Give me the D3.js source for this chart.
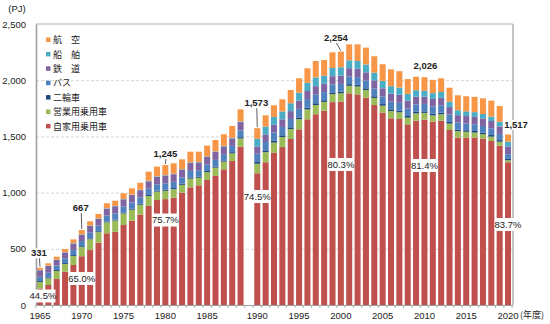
<!DOCTYPE html>
<html>
<head>
<meta charset="utf-8">
<script src="https://cdn.jsdelivr.net/npm/d3@7"></script>
<style>
  body { margin: 0; background: #fff; }
  text { fill: #222; }
  .num { font-family: 'Liberation Sans Narrow', 'Arial Narrow', 'Liberation Sans', sans-serif; font-size: 9.5px; }
  .jp { font-family: 'Noto Sans CJK JP', sans-serif; font-size: 9px; }
  .grid line { stroke: #d4d4d4; stroke-dasharray: 3,2; }
</style>
</head>
<body>
<div id="chart"></div>
<script>
const years = d3.range(1965, 2021);

// PJ (bottom to top of stack)
const jikayou = [147,178,231,297,356,434,489,554,638,652,712,750,805,881,934,942,955,1000,1047,1065,1112,1148,1207,1281,1408,
  1172,1270,1355,1405,1477,1563,1652,1697,1729,1805,1810,1883,1874,1844,1779,1711,1661,1655,1607,1640,1649,1631,1640,1557,1489,1489,1489,1480,1459,1417,1270];
const eigyou = [58,58,72,68,80,81,96,94,97,100,102,98,87,89,75,74,75,69,77,67,70,74,68,68,73,
  85,90,90,89,88,90,88,82,78,72,74,67,70,69,63,62,65,60,60,65,60,56,57,57,58,52,45,40,39,36,18];
const nirin = [8,9,8,8,8,8,8,8,8,8,8,8,8,9,9,10,10,10,11,11,11,11,11,11,12,
  15,16,16,16,16,16,16,16,15,15,15,15,15,15,15,15,15,15,15,14,14,14,14,15,14,14,14,14,15,14,12];
const bus = [38,42,40,42,46,46,50,50,52,54,54,56,56,56,56,56,56,56,58,56,56,58,56,56,60,
  74,74,74,74,74,76,76,76,72,70,68,68,68,68,68,68,68,68,66,66,66,66,66,66,62,60,60,59,59,55,42];
const tetsudo = [58,60,50,52,56,56,60,60,62,64,64,66,66,66,66,68,68,68,70,68,68,70,68,66,74,
  65,68,68,68,70,72,72,76,74,74,74,74,74,74,74,72,72,72,70,68,65,66,66,66,66,66,66,66,65,66,68];
const senpaku = [4,4,3,3,4,4,4,4,4,4,4,4,4,5,5,5,5,5,5,5,5,5,5,5,6,
  68,70,70,70,70,72,72,78,72,72,74,70,70,70,68,66,66,64,60,58,52,52,52,48,44,42,42,40,39,42,44];
const koku = [18,20,26,28,34,38,38,40,44,46,50,56,62,80,86,90,92,88,96,92,96,102,104,106,108,
  94,100,104,108,118,128,130,146,140,140,139,142,148,150,146,148,150,146,132,120,120,118,122,124,133,134,136,140,142,140,63];

const seriesKeys = ['jikayou', 'eigyou', 'nirin', 'bus', 'tetsudo', 'senpaku', 'koku'];
const seriesNames = {jikayou: '自家用乗用車', eigyou: '営業用乗用車', nirin: '二輪車', bus: 'バス', tetsudo: '鉄　道', senpaku: '船　舶', koku: '航　空'};
const colors = {jikayou: '#c0504d', eigyou: '#9bbb59', nirin: '#1f497d', bus: '#4f81bd', tetsudo: '#8064a2', senpaku: '#4bacc6', koku: '#f79646'};

const yTicks = [0, 500, 1000, 1500, 2000, 2500];
const xLabelYears = [1965, 1970, 1975, 1980, 1985, 1990, 1995, 2000, 2005, 2010, 2015, 2020];

const labelYears = [1965, 1970, 1980, 1990, 2000, 2010, 2020];
const totalLabels = ['331', '667', '1,245', '1,573', '2,254', '2,026', '1,517'];
const shareLabels = ['44.5%', '65.0%', '75.7%', '74.5%', '80.3%', '81.4%', '83.7%'];

const series = {jikayou, eigyou, nirin, bus, tetsudo, senpaku, koku};
const table = years.map((yr, i) => {
  const row = {year: String(yr)};
  seriesKeys.forEach(k => row[k] = series[k][i]);
  return row;
});

const W = 550, H = 324;
const plotL = 36, plotR = 513, plotT = 24, plotB = 305;

const svg = d3.select('#chart').append('svg')
  .attr('width', W).attr('height', H);

// one empty slot between 1989 and 1990
const slots = years.filter(v => v < 1990).map(String)
  .concat(['gap'])
  .concat(years.filter(v => v >= 1990).map(String));

const x = d3.scaleBand()
  .domain(slots)
  .range([35.8, 512.2])
  .paddingInner(0.28)
  .paddingOuter(0.14);

const y = d3.scaleLinear()
  .domain([0, 2500])
  .range([plotB, plotT]);

// grid
svg.append('g')
  .attr('class', 'grid')
  .attr('transform', `translate(${plotL},0)`)
  .call(d3.axisLeft(y).tickValues(yTicks.slice(1, -1)).tickSize(-(plotR - plotL)).tickFormat(''))
  .call(g => g.select('.domain').remove());

// frame
svg.append('line').attr('x1', plotL).attr('x2', plotR).attr('y1', plotT).attr('y2', plotT)
  .attr('stroke', '#b0b0b0').attr('stroke-width', 1);
svg.append('line').attr('x1', plotR).attr('x2', plotR).attr('y1', plotT).attr('y2', plotB)
  .attr('stroke', '#b0b0b0').attr('stroke-width', 1.5);

const stack = d3.stack().keys(seriesKeys);
const layers = stack(table);

svg.append('g')
  .selectAll('g')
  .data(layers)
  .join('g')
  .attr('fill', d => colors[d.key])
  .selectAll('rect')
  .data(d => d)
  .join('rect')
  .attr('x', d => x(d.data.year))
  .attr('y', d => y(d[1]))
  .attr('width', x.bandwidth())
  .attr('height', d => y(d[0]) - y(d[1]));

// y axis
const yAxis = svg.append('g')
  .attr('transform', `translate(${plotL},0)`)
  .call(d3.axisLeft(y).tickValues(yTicks).tickSize(0).tickPadding(10).tickFormat(d3.format(',')));
yAxis.attr('font-size', null).attr('font-family', null);
yAxis.select('.domain').attr('stroke', '#a0a0a0').attr('stroke-width', 1.6);
yAxis.selectAll('text').attr('class', 'num');

svg.append('text').attr('class', 'num')
  .attr('x', 17).attr('y', 12).attr('text-anchor', 'middle').text('(PJ)');

// x axis
const xAxis = svg.append('g')
  .attr('transform', `translate(0,${plotB})`)
  .call(d3.axisBottom(x).tickSize(0).tickPadding(7)
    .tickValues(xLabelYears.map(String)));
xAxis.attr('font-size', null).attr('font-family', null);
xAxis.select('.domain').attr('stroke', '#a0a0a0').attr('stroke-width', 1);
xAxis.selectAll('text').attr('class', 'num');

// category tick marks
svg.append('g')
  .selectAll('line')
  .data(slots.concat(['end']))
  .join('line')
  .attr('x1', (d, i) => 35.8 + i * x.step())
  .attr('x2', (d, i) => 35.8 + i * x.step())
  .attr('y1', plotB).attr('y2', plotB + 3)
  .attr('stroke', '#a0a0a0').attr('stroke-width', 0.8);

svg.append('text').attr('class', 'jp')
  .attr('x', 520).attr('y', 318).text('(年度)');

// share labels with white boxes
const sharePos = [[3, 80], [0, 236], [0, 756], [0, 965], [0, 1250], [0, 1241], [0, 716]];
const shareG = svg.append('g')
  .selectAll('g')
  .data(labelYears)
  .join('g')
  .attr('transform', (d, i) => `translate(${x(String(d)) + x.bandwidth() / 2 + sharePos[i][0]},${y(sharePos[i][1])})`);
shareG.append('rect')
  .attr('x', -12.5).attr('y', -6.5).attr('width', 25).attr('height', 13)
  .attr('fill', '#fff');
shareG.append('text').attr('class', 'num')
  .attr('text-anchor', 'middle').attr('dy', '0.35em')
  .text((d, i) => shareLabels[i]);

// total labels with leader lines
const tot = years.map((yr, i) => d3.sum(seriesKeys, k => series[k][i]));
const totalPos = [[-1, 11.5, true], [-1, 19, true], [0, 8, true], [-1, 22, true], [-5, 10.7, true], [1, 8, false], [8, 6.5, false]];
labelYears.forEach((yr, i) => {
  const cx = x(String(yr)) + x.bandwidth() / 2;
  const ty = y(tot[years.indexOf(yr)]);
  const lx = cx + totalPos[i][0];
  const ly = ty - totalPos[i][1];
  const w = totalLabels[i].length * 4.6 + 3;
  svg.append('rect').attr('x', lx - w / 2).attr('y', ly - 8).attr('width', w).attr('height', 10).attr('fill', '#fff');
  svg.append('text').attr('class', 'num')
    .attr('x', lx).attr('y', ly)
    .attr('text-anchor', 'middle')
    .style('font-weight', 'bold')
    .text(totalLabels[i]);
  if (totalPos[i][2]) {
    svg.append('line')
      .attr('x1', lx + 0.5).attr('y1', ly + 2)
      .attr('x2', cx).attr('y2', ty - 1)
      .attr('stroke', '#333').attr('stroke-width', 0.8);
  }
});

// legend
const legendKeys = seriesKeys.slice().reverse();
const legend = svg.append('g')
  .selectAll('g')
  .data(legendKeys)
  .join('g')
  .attr('transform', (d, i) => `translate(46,${40 + i * 14.4})`);
legend.append('rect')
  .attr('x', 0).attr('y', -2.5).attr('width', 4.5).attr('height', 4.5)
  .attr('fill', d => colors[d]);
legend.append('text').attr('class', 'jp')
  .attr('x', 7).attr('dy', '0.35em')
  .text(d => seriesNames[d]);
</script>
</body>
</html>
